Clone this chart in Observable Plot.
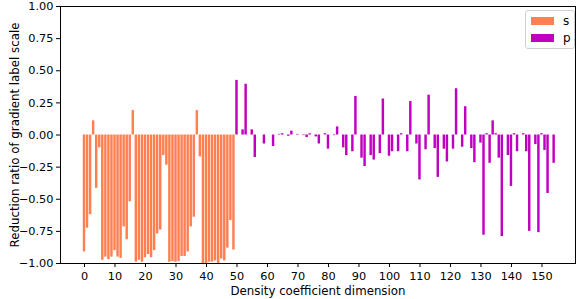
<!DOCTYPE html>
<html>
<head>
<meta charset="utf-8">
<script src="https://cdn.jsdelivr.net/npm/d3@7"></script>
<script src="https://cdn.jsdelivr.net/npm/@observablehq/plot@0.6"></script>
<style>
  html, body { margin: 0; padding: 0; background: #fff; }
  #wrap { position: relative; width: 581px; height: 299px; }
  .legend { position: absolute; left: 525px; top: 10px; width: 48px; height: 37px;
    border: 1px solid #d0d0d0; border-radius: 3px; background: rgba(255,255,255,0.8);
    font-family: "DejaVu Sans", sans-serif; font-size: 12px; color: #000; }
  .legend .row { position: absolute; left: 5px; height: 12px; display: flex; align-items: center; }
  .legend .sw { width: 23px; height: 8px; margin-right: 9px; }
</style>
</head>
<body>
<div id="wrap"></div>
<script>
const seriesNames = ["s", "p"];
const seriesColors = ["#ff7f50", "#bf00bf"];
const sStart = 0;
const sValues = [
  -0.91, -0.725, -0.62, 0.11, -0.415, -0.10, -0.975, -0.95, -0.97, -0.95,
  -0.90, -0.95, -0.96, -0.715, -0.815, -0.52, 0.19, -0.99, -0.975, -0.99,
  -0.955, -0.93, -0.955, -0.90, -0.77, -0.74, -0.16, -0.235, -0.99, -0.985,
  -0.99, -0.985, -0.945, -0.945, -0.91, -0.715, -0.64, 0.19, -0.17, -1.0,
  -1.0, -0.99, -0.99, -0.98, -1.0, -0.965, -0.98, -0.88, -0.665, -0.895
];
const pStart = 50;
const pValues = [
  0.425, 0, 0.04, 0.395, 0, 0.04, -0.175, 0, 0, -0.07,
  0, 0, -0.09, 0, 0.005, 0.01, 0, -0.01, 0.03, 0,
  0.005, 0, -0.005, -0.02, 0.01, 0, -0.015, -0.07, 0, 0.01,
  -0.11, 0, -0.005, 0.063, 0, -0.10, -0.16, 0, -0.13, 0.30,
  0, -0.18, -0.245, 0, -0.16, -0.195, 0, -0.145, 0.28, 0,
  -0.165, -0.13, 0, -0.13, 0.01, 0, -0.13, 0.26, 0, -0.07,
  -0.35, 0, -0.115, 0.31, 0, -0.105, -0.33, 0, -0.11, -0.21,
  0, -0.11, 0.36, 0, -0.095, 0.22, 0, -0.105, -0.215, 0,
  -0.063, -0.78, 0.01, -0.22, 0.11, 0.01, -0.18, -0.79, 0, -0.16,
  -0.40, 0.01, -0.13, 0, 0.01, -0.13, -0.75, 0, -0.075, -0.76,
  0.01, -0.12, -0.455, 0, -0.22
];
const xTicks = d3.range(0, 151, 10);
const yTicks = [-1, -0.75, -0.5, -0.25, 0, 0.25, 0.5, 0.75, 1];

const data = [
  ...sValues.map((v, i) => ({dim: sStart + i, value: v, series: "s"})),
  ...pValues.map((v, i) => ({dim: pStart + i, value: v, series: "p"}))
];

const chart = Plot.plot({
  width: 581,
  height: 299,
  marginLeft: 60,
  marginRight: 6,
  marginTop: 6,
  marginBottom: 36,
  style: {fontFamily: "DejaVu Sans, sans-serif", fontSize: "11px", color: "#000", background: "#fff"},
  x: {type: "linear", domain: [-7.87, 161.0]},
  y: {domain: [-1, 1]},
  color: {domain: seriesNames, range: seriesColors},
  marks: [
    Plot.rectY(data, {x1: d => d.dim - 0.4, x2: d => d.dim + 0.4, y1: 0, y2: "value", fill: "series"}),
    Plot.frame({stroke: "#000", strokeWidth: 1}),
    Plot.axisX({ticks: xTicks, tickSize: 4, tickPadding: 4, tickFormat: d3.format("d"), fontSize: 11.3, label: null}),
    Plot.axisX({ticks: [], tickSize: 0, label: "Density coefficient dimension", labelAnchor: "center", labelArrow: "none", labelOffset: 31, fontSize: 11.8}),
    Plot.axisY({ticks: yTicks, tickSize: 4, tickPadding: 3, tickFormat: d3.format(".2f"), fontSize: 11.3, label: null}),
    Plot.axisY({ticks: [], tickSize: 0, label: "Reduction ratio of gradient label scale", labelAnchor: "center", labelArrow: "none", labelOffset: 50, fontSize: 11.8})
  ]
});
const wrap = document.getElementById("wrap");
wrap.appendChild(chart);

const legend = document.createElement("div");
legend.className = "legend";
seriesNames.forEach((name, k) => {
  const row = document.createElement("div");
  row.className = "row";
  row.style.top = (4 + k * 17) + "px";
  row.innerHTML = `<span class="sw" style="background:${seriesColors[k]}"></span><span>${name}</span>`;
  legend.appendChild(row);
});
wrap.appendChild(legend);
</script>
</body>
</html>
